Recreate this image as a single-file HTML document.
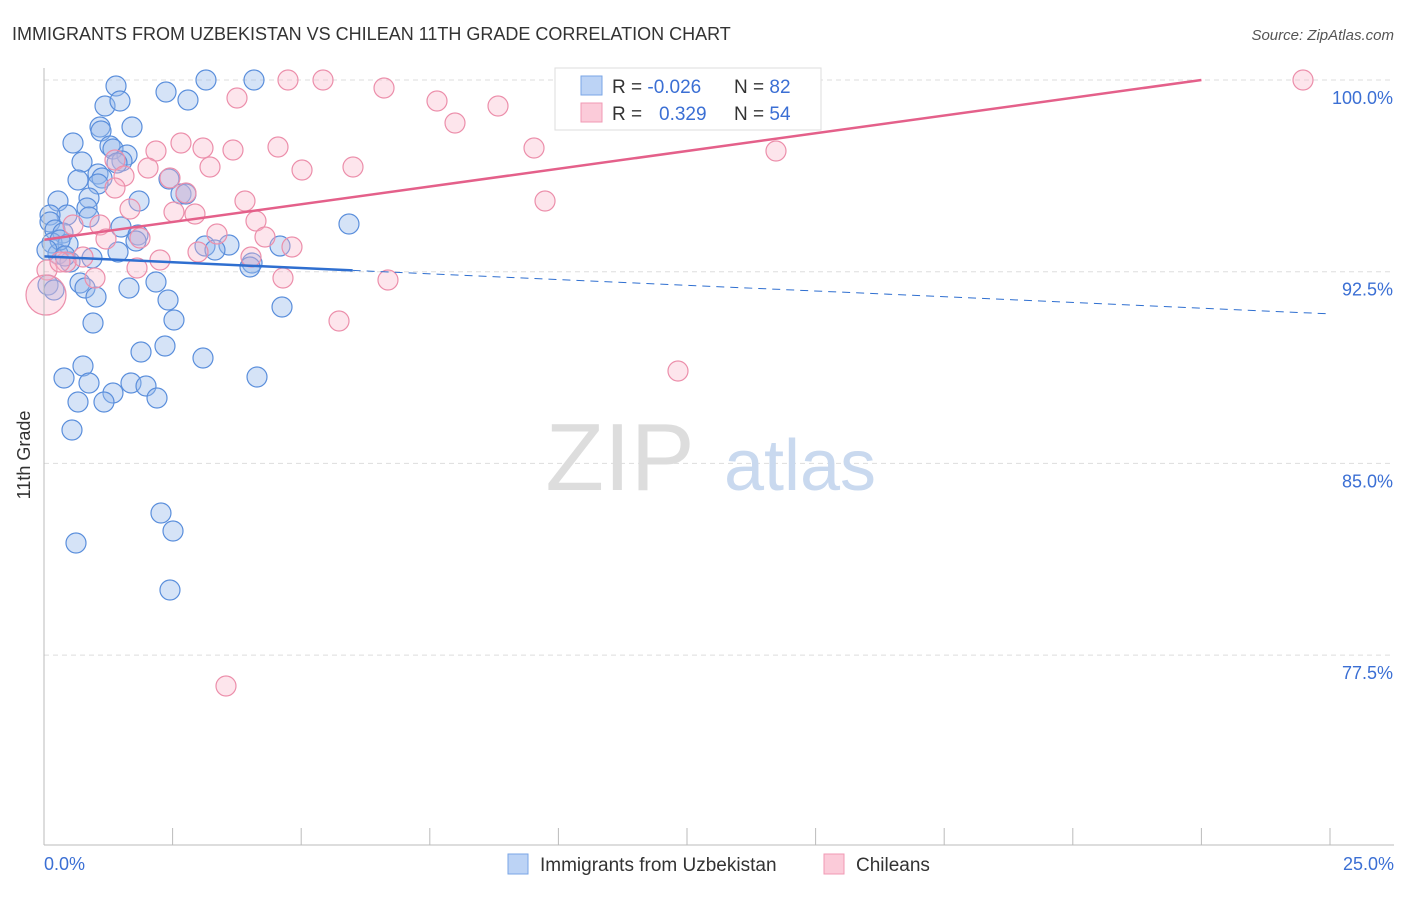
<!DOCTYPE html>
<html><head><meta charset="utf-8"><style>
body{margin:0;background:#fff;font-family:"Liberation Sans",sans-serif;}
svg text{font-family:"Liberation Sans",sans-serif;}
</style></head><body>
<svg width="1406" height="892">
<text x="12" y="40" font-size="18" fill="#333">IMMIGRANTS FROM UZBEKISTAN VS CHILEAN 11TH GRADE CORRELATION CHART</text>
<text x="1394" y="40" font-size="15" fill="#555" font-style="italic" text-anchor="end">Source: ZipAtlas.com</text>
<g id="grid"></g>
<text x="620" y="490" font-size="96" fill="#ddd" font-family="Liberation Serif" text-anchor="middle">ZIP</text>
<text x="800" y="490" font-size="72" fill="#c9d9ef" text-anchor="middle">atlas</text>
<g id="pts"></g>
<g id="lines"></g>
<line x1="44" y1="68" x2="44" y2="845" stroke="#bbb"/>
<line x1="44" y1="845" x2="1394" y2="845" stroke="#bbb"/>
<text x="30" y="455" font-size="18" fill="#333" text-anchor="middle" transform="rotate(-90 30 455)">11th Grade</text>
<text x="44" y="870" font-size="18" fill="#3b6fd4">0.0%</text>
<text x="1394" y="870" font-size="18" fill="#3b6fd4" text-anchor="end">25.0%</text>
<g>
<rect x="555" y="68" width="266" height="62" fill="#fff" stroke="#ddd"/>
<rect x="581" y="76" width="21" height="19" fill="#bcd3f5" stroke="#7aa6e6"/>
<rect x="581" y="103" width="21" height="19" fill="#fbcbd9" stroke="#f09ab4"/>
<text x="612" y="93" font-size="19" fill="#333">R = <tspan fill="#3b6fd4">-0.026</tspan></text>
<text x="734" y="93" font-size="19" fill="#333">N = <tspan fill="#3b6fd4">82</tspan></text>
<text x="612" y="120" font-size="19" fill="#333">R = </text>
<text x="659" y="120" font-size="19" fill="#3b6fd4">0.329</text>
<text x="734" y="120" font-size="19" fill="#333">N = <tspan fill="#3b6fd4">54</tspan></text>
</g>
<g>
<rect x="508" y="854" width="20" height="20" fill="#bcd3f5" stroke="#7aa6e6"/>
<text x="540" y="871" font-size="19" fill="#333">Immigrants from Uzbekistan</text>
<rect x="824" y="854" width="20" height="20" fill="#fbcbd9" stroke="#f09ab4"/>
<text x="856" y="871" font-size="19" fill="#333">Chileans</text>
</g>
</svg>
<script>
const yTicks=[100,92.5,85,77.5];
const yTickLabels=["100.0%","92.5%","85.0%","77.5%"];
const xTicks=[0,2.5,5,7.5,10,12.5,15,17.5,20,22.5,25];
const bluePx=[[116,86],[206,80],[254,80],[166,92],[188,100],[105,106],[120,101],[100,127],[132,127],[101,131],[73,143],[110,146],[113,149],[127,155],[82,162],[122,161],[117,163],[98,174],[102,178],[78,180],[98,184],[169,179],[58,201],[89,198],[139,201],[181,194],[186,194],[87,208],[67,215],[50,215],[50,222],[89,217],[121,227],[349,224],[55,230],[63,233],[138,235],[52,243],[68,244],[136,241],[205,246],[229,245],[280,246],[215,250],[118,252],[92,258],[58,254],[70,262],[252,263],[250,267],[48,285],[80,283],[85,288],[96,297],[129,288],[156,282],[168,300],[282,307],[93,323],[174,320],[141,352],[165,346],[203,358],[83,366],[64,378],[257,377],[89,383],[131,383],[146,386],[113,393],[78,402],[104,402],[157,398],[72,430],[161,513],[173,531],[76,543],[170,590],[54,290],[60,240],[47,250],[65,256]];
const pinkPx=[[720,80],[770,80],[1303,80],[288,80],[323,80],[384,88],[237,98],[437,101],[498,106],[455,123],[181,143],[203,148],[233,150],[156,151],[278,147],[534,148],[776,151],[115,160],[210,167],[302,170],[353,167],[148,168],[124,176],[170,178],[115,188],[186,193],[245,201],[545,201],[174,212],[195,214],[130,209],[256,221],[73,225],[100,225],[140,238],[106,239],[217,234],[265,237],[292,247],[198,252],[160,260],[251,257],[83,257],[66,262],[137,268],[283,278],[388,280],[95,278],[339,321],[678,371],[226,686],[47,270],[60,262]];
// data values (x in %, y in %) derived from reading the picture
const blueX=bluePx.map(p=>+((p[0]-44)/1286*25).toFixed(3));
const blueY=bluePx.map(p=>+(100-(p[1]-80)/25.56).toFixed(3));
const pinkX=pinkPx.map(p=>+((p[0]-44)/1286*25).toFixed(3));
const pinkY=pinkPx.map(p=>+(100-(p[1]-80)/25.56).toFixed(3));
const blueTrend=[[0,93.1],[6.0,92.55],[25,90.85]];
const pinkTrend=[[0,93.75],[22.5,100]];
const X=v=>44+v/25*1286, Y=v=>80+(100-v)*25.56;
const NS="http://www.w3.org/2000/svg";
function mk(t,a,parent){const e=document.createElementNS(NS,t);for(const k in a)e.setAttribute(k,a[k]);parent.appendChild(e);return e;}
const grid=document.getElementById('grid');
yTicks.forEach((v,i)=>{
 const l=mk('line',{x1:44,x2:1394,y1:Y(v),y2:Y(v),stroke:'#ddd','stroke-dasharray':'5,4'},grid);
 
 
 const t=mk('text',{x:1393,y:Y(v)+24,'font-size':18,fill:'#3b6fd4','text-anchor':'end'},grid);
 t.textContent=yTickLabels[i];
 
 
});
xTicks.forEach(v=>{
 const l=mk('line',{x1:X(v),x2:X(v),y1:828,y2:845,stroke:'#bbb'},grid);
 
 
});
const pts=document.getElementById('pts');
blueX.forEach((x,i)=>{
 const c=mk('circle',{cx:X(x),cy:Y(blueY[i]),r:10,fill:'rgba(150,185,235,0.4)',stroke:'#5b8fdc','stroke-width':1.2},pts);
 
 
});
pinkX.forEach((x,i)=>{
 const c=mk('circle',{cx:X(x),cy:Y(pinkY[i]),r:10,fill:'rgba(248,180,200,0.35)',stroke:'#ec8fab','stroke-width':1.2},pts);
 
 
});
const big=mk('circle',{cx:46,cy:295,r:20,fill:'rgba(248,180,200,0.35)',stroke:'#ec8fab','stroke-width':1.2},pts);


const lines=document.getElementById('lines');
let l=mk('line',{x1:X(blueTrend[0][0]),y1:Y(blueTrend[0][1]),x2:X(blueTrend[1][0]),y2:Y(blueTrend[1][1]),stroke:'#2f6fd0','stroke-width':2.5},lines);


l=mk('line',{x1:X(blueTrend[1][0]),y1:Y(blueTrend[1][1]),x2:X(blueTrend[2][0]),y2:Y(blueTrend[2][1]),stroke:'#2f6fd0','stroke-width':1,'stroke-dasharray':'8,6'},lines);


l=mk('line',{x1:X(pinkTrend[0][0]),y1:Y(pinkTrend[0][1]),x2:X(pinkTrend[1][0]),y2:Y(pinkTrend[1][1]),stroke:'#e4608a','stroke-width':2.5},lines);


</script>
</body></html>
